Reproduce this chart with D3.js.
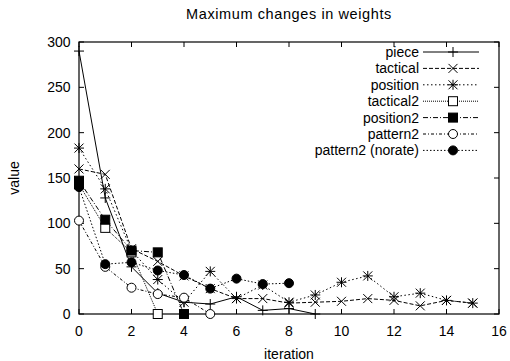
<!DOCTYPE html>
<html><head><meta charset="utf-8">
<script src="https://cdn.jsdelivr.net/npm/d3@7/dist/d3.min.js"></script>
<style>body{margin:0;background:#fff}svg{display:block}text{font-family:"Liberation Sans",Arial,sans-serif;fill:#000}</style>
</head><body><svg id="c" width="510" height="361"></svg>
<script>
const title = "Maximum changes in weights";
const xLabel = "iteration";
const yLabel = "value";
const xTicks = [0,2,4,6,8,10,12,14,16];
const yTicks = [0,50,100,150,200,250,300];
const seriesNames = ["piece","tactical","position","tactical2","position2","pattern2","pattern2 (norate)"];
const piece     = [290,128,52,23,13,11,19,4,6,0];
const tactical  = [160,154,72,58,42,28,17,17,12,13,14,17,15,9,15,12];
const position  = [183,138,70,38,13,47,17,32,13,21,35,42,19,23,15,12];
const tactical2 = [143,95,68,0];
const position2 = [147,104,70,68,0];
const pattern2  = [103,52,29,22,18,0];
const pattern2n = [140,55,57,48,43,28,39,33,34];
const allSeries = [piece,tactical,position,tactical2,position2,pattern2,pattern2n];

const dashes = [null,"4,2","1.5,2.5","1,1","5,2,1,2","3,2,1,2","1.5,2"];
const markers = ["plus","cross","star","osq","fsq","ocirc","fcirc"];

const svg = d3.select("#c");
const L=79,R=499,T=42,B=314;
const x = d3.scaleLinear().domain([0,16]).range([L,R]);
const y = d3.scaleLinear().domain([0,300]).range([B,T]);

svg.append("rect").attr("x",L).attr("y",T).attr("width",R-L).attr("height",B-T)
  .attr("fill","none").attr("stroke","#000").attr("stroke-width",1.2);

const tl=5;
const ax = svg.append("g").attr("stroke","#000").attr("stroke-width",1);
xTicks.forEach(t=>{
  ax.append("line").attr("x1",x(t)).attr("x2",x(t)).attr("y1",B).attr("y2",B-tl);
  ax.append("line").attr("x1",x(t)).attr("x2",x(t)).attr("y1",T).attr("y2",T+tl);
});
yTicks.forEach(t=>{
  ax.append("line").attr("x1",L).attr("x2",L+tl).attr("y1",y(t)).attr("y2",y(t));
  ax.append("line").attr("x1",R).attr("x2",R-tl).attr("y1",y(t)).attr("y2",y(t));
});
const fs = 14;
xTicks.forEach(t=>svg.append("text").attr("x",x(t)).attr("y",B+22).attr("text-anchor","middle").attr("font-size",fs).text(t));
yTicks.forEach(t=>svg.append("text").attr("x",L-8.5).attr("y",y(t)+5).attr("text-anchor","end").attr("font-size",fs).text(t));
svg.append("text").attr("x",289).attr("y",19).attr("text-anchor","middle").attr("font-size",14.5).attr("letter-spacing",0.6).text(title);
svg.append("text").attr("x",289).attr("y",359).attr("text-anchor","middle").attr("font-size",fs).text(xLabel);
svg.append("text").attr("transform","translate(19,178) rotate(-90)").attr("text-anchor","middle").attr("font-size",fs).text(yLabel);

function drawMarker(g,type,cx,cy){
  const s=4.5;
  if(type==="plus"||type==="star"){
    g.append("path").attr("d",`M${cx-s-0.5},${cy}H${cx+s+0.5}M${cx},${cy-s-0.5}V${cy+s+0.5}`).attr("stroke","#000").attr("fill","none");
  }
  if(type==="cross"||type==="star"){
    g.append("path").attr("d",`M${cx-s},${cy-s}L${cx+s},${cy+s}M${cx-s},${cy+s}L${cx+s},${cy-s}`).attr("stroke","#000").attr("fill","none");
  }
  if(type==="osq") g.append("rect").attr("x",cx-s).attr("y",cy-s).attr("width",2*s).attr("height",2*s).attr("fill","#fff").attr("stroke","#000");
  if(type==="fsq") g.append("rect").attr("x",cx-s).attr("y",cy-s).attr("width",2*s).attr("height",2*s).attr("fill","#000").attr("stroke","#000");
  if(type==="ocirc") g.append("circle").attr("cx",cx).attr("cy",cy).attr("r",s).attr("fill","#fff").attr("stroke","#000");
  if(type==="fcirc") g.append("circle").attr("cx",cx).attr("cy",cy).attr("r",s).attr("fill","#000").attr("stroke","#000");
}

const line = d3.line().x((d,i)=>x(i)).y(d=>y(d));
allSeries.forEach((data,k)=>{
  svg.append("path").attr("d",line(data)).attr("fill","none").attr("stroke","#000").attr("stroke-width",1)
    .attr("stroke-dasharray",dashes[k]);
});
allSeries.forEach((data,k)=>{
  const g = svg.append("g");
  data.forEach((v,i)=>drawMarker(g,markers[k],x(i),y(v)));
});

const ly0=52, lsp=16.4;
seriesNames.forEach((n,k)=>{
  const yy = ly0+k*lsp;
  svg.append("text").attr("x",419).attr("y",yy+5).attr("text-anchor","end").attr("font-size",fs).text(n);
  svg.append("line").attr("x1",423).attr("x2",479).attr("y1",yy).attr("y2",yy).attr("stroke","#000").attr("stroke-dasharray",dashes[k]);
  drawMarker(svg.append("g"),markers[k],453,yy);
});
</script></body></html>
